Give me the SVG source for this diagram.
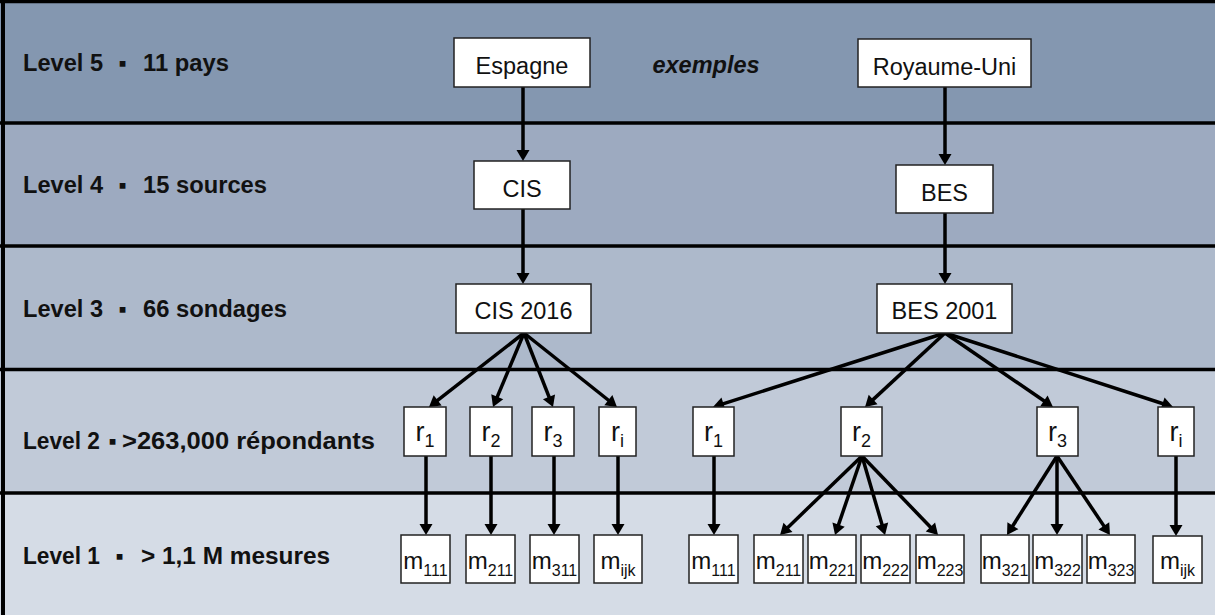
<svg xmlns="http://www.w3.org/2000/svg" width="1215" height="615" viewBox="0 0 1215 615">
<style>
.lbl{font-family:"Liberation Sans",Arial,sans-serif;font-weight:bold;font-size:23px;fill:#111}
.box{fill:#fff;stroke:#222;stroke-width:1.5}
.nt{font-family:"Liberation Sans",Arial,sans-serif;font-size:23.5px;fill:#111;text-anchor:middle}
.rt{font-family:"Liberation Sans",Arial,sans-serif;font-size:27px;fill:#111;text-anchor:middle}
.mt{font-family:"Liberation Sans",Arial,sans-serif;font-size:24px;fill:#111;text-anchor:middle}
.rs{font-size:18px}
.ms{font-size:16px}
.sep{stroke:#000;stroke-width:3.5}
.cn{stroke:#000;stroke-width:3.5;fill:none;marker-end:url(#ah)}
</style>
<defs>
<marker id="ah" markerUnits="userSpaceOnUse" viewBox="-4 -7 13 14" refX="0" refY="0" markerWidth="13" markerHeight="14" orient="auto">
<path d="M-3,-6.5 L8,0 L-3,6.5 z" fill="#000"/>
</marker>
</defs>
<g id="bands">
<rect x="0" y="0" width="1215" height="123" fill="#8497b0"/>
<rect x="0" y="123" width="1215" height="123" fill="#9daac0"/>
<rect x="0" y="246" width="1215" height="123" fill="#adb9cb"/>
<rect x="0" y="369" width="1215" height="124" fill="#c1cad8"/>
<rect x="0" y="493" width="1215" height="122" fill="#d5dce6"/>
<line class="sep" x1="0" y1="1.5" x2="1215" y2="1.5"/>
<line class="sep" x1="0" y1="123" x2="1215" y2="123"/>
<line class="sep" x1="0" y1="246" x2="1215" y2="246"/>
<line class="sep" x1="0" y1="369.5" x2="1215" y2="369.5"/>
<line class="sep" x1="0" y1="493" x2="1215" y2="493"/>
<line x1="3" y1="0" x2="3" y2="615" stroke="#000" stroke-width="4"/>
</g>
<g id="labels">
<text class="lbl" x="23" y="71" textLength="80" lengthAdjust="spacingAndGlyphs">Level 5</text>
<text class="lbl" x="118.5" y="71">▪</text>
<text class="lbl" x="143" y="71" textLength="86" lengthAdjust="spacingAndGlyphs">11 pays</text>
<text class="lbl" x="23" y="193" textLength="80" lengthAdjust="spacingAndGlyphs">Level 4</text>
<text class="lbl" x="118.5" y="193">▪</text>
<text class="lbl" x="143" y="193" textLength="124" lengthAdjust="spacingAndGlyphs">15 sources</text>
<text class="lbl" x="23" y="317" textLength="80" lengthAdjust="spacingAndGlyphs">Level 3</text>
<text class="lbl" x="118.5" y="317">▪</text>
<text class="lbl" x="143" y="317" textLength="144" lengthAdjust="spacingAndGlyphs">66 sondages</text>
<text class="lbl" x="23" y="449" textLength="77" lengthAdjust="spacingAndGlyphs">Level 2</text>
<text class="lbl" x="108.5" y="449">▪</text>
<text class="lbl" x="122" y="449" textLength="253" lengthAdjust="spacingAndGlyphs">&gt;263,000 répondants</text>
<text class="lbl" x="23" y="564" textLength="77" lengthAdjust="spacingAndGlyphs">Level 1</text>
<text class="lbl" x="115.5" y="564">▪</text>
<text class="lbl" x="141" y="564" textLength="189" lengthAdjust="spacingAndGlyphs">&gt; 1,1 M mesures</text>
<text x="706" y="73" font-family="Liberation Sans, Arial, sans-serif" font-size="23.5" font-weight="bold" font-style="italic" text-anchor="middle" fill="#111">exemples</text>
</g>
<g id="connectors">
<line class="cn" x1="523" y1="87" x2="523" y2="153"/>
<line class="cn" x1="945" y1="87" x2="945" y2="157"/>
<line class="cn" x1="523" y1="209" x2="523" y2="276"/>
<line class="cn" x1="945" y1="213" x2="945" y2="276"/>
<line class="cn" x1="524" y1="333" x2="435.3" y2="402.1"/>
<line class="cn" x1="524" y1="333" x2="496.1" y2="399.6"/>
<line class="cn" x1="524" y1="333" x2="550.1" y2="399.6"/>
<line class="cn" x1="524" y1="333" x2="610.7" y2="402"/>
<line class="cn" x1="426" y1="456" x2="426" y2="527"/>
<line class="cn" x1="491" y1="456" x2="491" y2="527"/>
<line class="cn" x1="554" y1="456" x2="554" y2="527"/>
<line class="cn" x1="618" y1="456" x2="618" y2="527"/>
<line class="cn" x1="945" y1="333" x2="720.6" y2="404.6"/>
<line class="cn" x1="945" y1="333" x2="870.9" y2="401.6"/>
<line class="cn" x1="945" y1="333" x2="1046.4" y2="402.5"/>
<line class="cn" x1="945" y1="333" x2="1165.4" y2="404.5"/>
<line class="cn" x1="714" y1="456" x2="714" y2="527"/>
<line class="cn" x1="862" y1="456" x2="785.8" y2="529.4"/>
<line class="cn" x1="862" y1="456" x2="837.6" y2="527.4"/>
<line class="cn" x1="862" y1="456" x2="882.8" y2="527.3"/>
<line class="cn" x1="862" y1="456" x2="932.5" y2="529.2"/>
<line class="cn" x1="1057" y1="456" x2="1011.3" y2="528.2"/>
<line class="cn" x1="1057" y1="456" x2="1057" y2="527"/>
<line class="cn" x1="1057" y1="456" x2="1105.5" y2="528.4"/>
<line class="cn" x1="1176" y1="456" x2="1176" y2="528"/>
</g>
<g id="espagne"><rect class="box" x="454" y="38" width="136" height="49"/><text class="nt" x="522" y="74">Espagne</text></g>
<g id="royaume-uni"><rect class="box" x="858" y="39" width="173" height="48"/><text class="nt" x="944.5" y="75">Royaume-Uni</text></g>
<g id="cis"><rect class="box" x="474" y="161" width="96" height="48"/><text class="nt" x="522" y="197">CIS</text></g>
<g id="bes"><rect class="box" x="896" y="165" width="97" height="48"/><text class="nt" x="944.5" y="201">BES</text></g>
<g id="cis2016"><rect class="box" x="456" y="284" width="135" height="49"/><text class="nt" x="523.5" y="319">CIS 2016</text></g>
<g id="bes2001"><rect class="box" x="877" y="284" width="135" height="49"/><text class="nt" x="944.5" y="319">BES 2001</text></g>
<g id="cis-r1"><rect class="box" x="404" y="407" width="42" height="49"/><text class="rt" x="425" y="441">r<tspan class="rs" dy="6">1</tspan></text></g>
<g id="cis-r2"><rect class="box" x="470" y="407" width="42" height="49"/><text class="rt" x="491" y="441">r<tspan class="rs" dy="6">2</tspan></text></g>
<g id="cis-r3"><rect class="box" x="532" y="407" width="42" height="49"/><text class="rt" x="553" y="441">r<tspan class="rs" dy="6">3</tspan></text></g>
<g id="cis-ri"><rect class="box" x="599" y="407" width="37" height="49"/><text class="rt" x="617.5" y="441">r<tspan class="rs" dy="6">i</tspan></text></g>
<g id="cis-m111"><rect class="box" x="401" y="535" width="49" height="48"/><text class="mt" x="425.5" y="569">m<tspan class="ms" dy="7">111</tspan></text></g>
<g id="cis-m211"><rect class="box" x="466" y="535" width="49" height="48"/><text class="mt" x="490.5" y="569">m<tspan class="ms" dy="7">211</tspan></text></g>
<g id="cis-m311"><rect class="box" x="530" y="535" width="49" height="48"/><text class="mt" x="554.5" y="569">m<tspan class="ms" dy="7">311</tspan></text></g>
<g id="cis-mijk"><rect class="box" x="594" y="535" width="48" height="48"/><text class="mt" x="618" y="569">m<tspan class="ms" dy="7">ijk</tspan></text></g>
<g id="bes-r1"><rect class="box" x="693" y="407" width="41" height="49"/><text class="rt" x="713.5" y="441">r<tspan class="rs" dy="6">1</tspan></text></g>
<g id="bes-r2"><rect class="box" x="841" y="407" width="41" height="49"/><text class="rt" x="861.5" y="441">r<tspan class="rs" dy="6">2</tspan></text></g>
<g id="bes-r3"><rect class="box" x="1037" y="407" width="41" height="49"/><text class="rt" x="1057.5" y="441">r<tspan class="rs" dy="6">3</tspan></text></g>
<g id="bes-ri"><rect class="box" x="1158" y="407" width="36" height="49"/><text class="rt" x="1176" y="441">r<tspan class="rs" dy="6">i</tspan></text></g>
<g id="bes-m111"><rect class="box" x="689" y="535" width="49" height="48"/><text class="mt" x="713.5" y="569">m<tspan class="ms" dy="7">111</tspan></text></g>
<g id="bes-m211"><rect class="box" x="754" y="535" width="49" height="48"/><text class="mt" x="778.5" y="569">m<tspan class="ms" dy="7">211</tspan></text></g>
<g id="bes-m221"><rect class="box" x="808" y="535" width="48" height="48"/><text class="mt" x="832" y="569">m<tspan class="ms" dy="7">221</tspan></text></g>
<g id="bes-m222"><rect class="box" x="861" y="535" width="49" height="48"/><text class="mt" x="885.5" y="569">m<tspan class="ms" dy="7">222</tspan></text></g>
<g id="bes-m223"><rect class="box" x="916" y="535" width="48" height="48"/><text class="mt" x="940" y="569">m<tspan class="ms" dy="7">223</tspan></text></g>
<g id="bes-m321"><rect class="box" x="981" y="535" width="48" height="48"/><text class="mt" x="1005" y="569">m<tspan class="ms" dy="7">321</tspan></text></g>
<g id="bes-m322"><rect class="box" x="1033" y="535" width="49" height="48"/><text class="mt" x="1057.5" y="569">m<tspan class="ms" dy="7">322</tspan></text></g>
<g id="bes-m323"><rect class="box" x="1087" y="535" width="48" height="48"/><text class="mt" x="1111" y="569">m<tspan class="ms" dy="7">323</tspan></text></g>
<g id="bes-mijk"><rect class="box" x="1153" y="536" width="49" height="47"/><text class="mt" x="1177.5" y="569">m<tspan class="ms" dy="7">ijk</tspan></text></g>
</svg>
